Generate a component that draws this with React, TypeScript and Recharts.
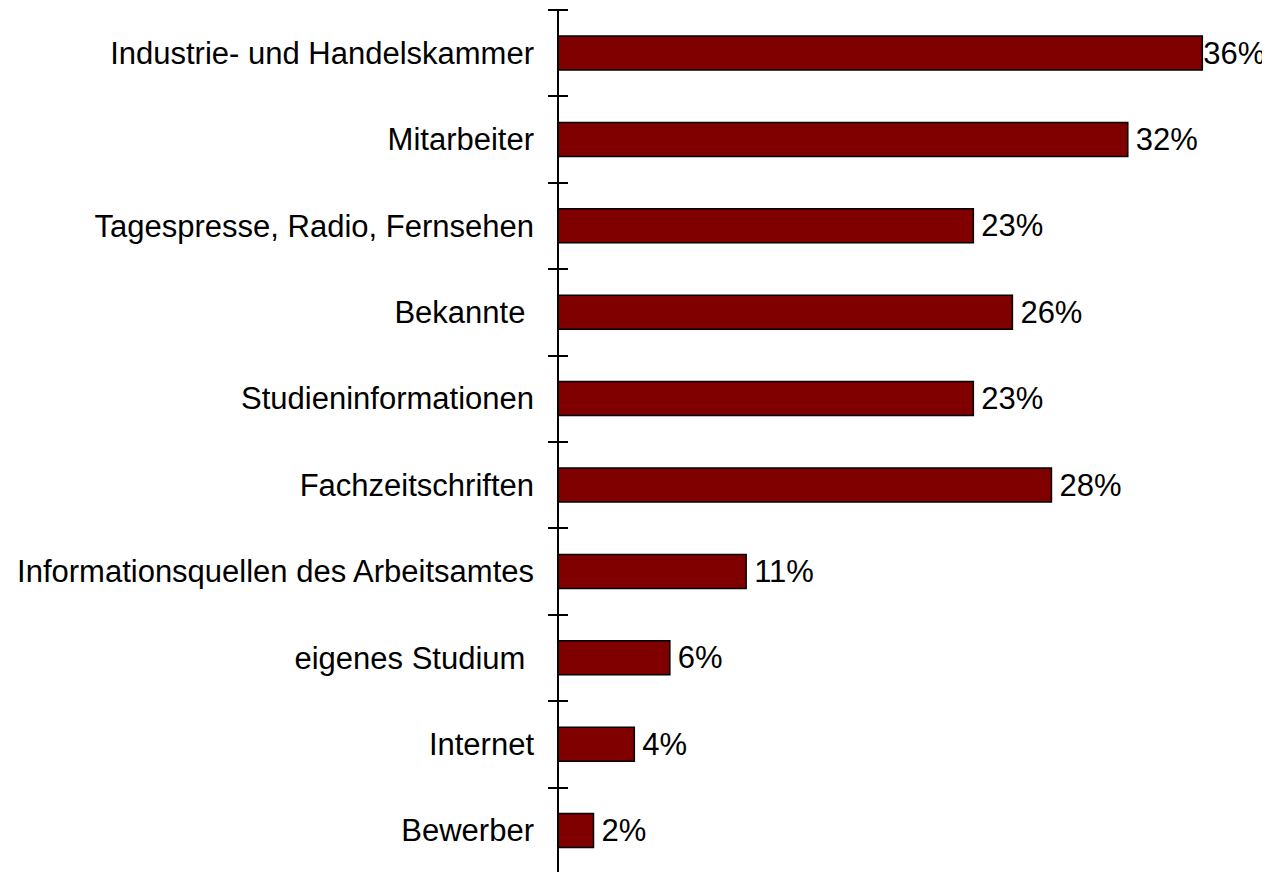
import { BarChart, Bar, XAxis, YAxis, LabelList } from 'recharts';

const categories = [
  'Industrie- und Handelskammer',
  'Mitarbeiter',
  'Tagespresse, Radio, Fernsehen',
  'Bekannte ',
  'Studieninformationen',
  'Fachzeitschriften',
  'Informationsquellen des Arbeitsamtes',
  'eigenes Studium ',
  'Internet',
  'Bewerber',
];

// share of respondents in %
const shares = [36.3, 32.1, 23.4, 25.6, 23.4, 27.8, 10.6, 6.3, 4.3, 2.0];

const WIDTH = 1262;
const HEIGHT = 870;
const MARGIN = { top: 2, right: 2, bottom: 4, left: 0 };
const FONT = '"Liberation Sans", Arial, sans-serif';
const FONT_SIZE = 31;

const data = categories.map((name, i) => ({ name, value: shares[i] }));

const bandSize = (HEIGHT - MARGIN.top - MARGIN.bottom) / categories.length;
const plotRight = WIDTH - MARGIN.right;

// label plus a tick mark on the boundary above each category
function CategoryTick(props: any) {
  const { x, y, payload } = props;
  const top = Math.round(y - bandSize / 2);
  return (
    <g>
      <line x1={x - 10} x2={x + 10} y1={top} y2={top} stroke="#000" strokeWidth={2} />
      <text
        x={x - 24}
        y={y}
        textAnchor="end"
        dominantBaseline="central"
        fontSize={FONT_SIZE}
        fontFamily={FONT}
        fill="#000"
        style={{ whiteSpace: 'pre' }}
      >
        {payload.value}
      </text>
    </g>
  );
}

// value label right of the bar; pulled in close when it would run out of the plot
function ValueLabel(props: any) {
  const { x, y, width, height, value } = props;
  const text = `${Math.round(Number(value))}%`;
  const approxWidth = text.length * FONT_SIZE * 0.67;
  const end = x + width;
  const gap = end + 8 + approxWidth > plotRight ? 1 : 8;
  return (
    <text
      x={end + gap}
      y={y + height / 2}
      textAnchor="start"
      dominantBaseline="central"
      fontSize={FONT_SIZE}
      fontFamily={FONT}
      fill="#000"
    >
      {text}
    </text>
  );
}

export default function App() {
  return (
    <BarChart width={WIDTH} height={HEIGHT} data={data} layout="vertical" margin={MARGIN}>
      <XAxis type="number" domain={[0, 40]} hide />
      <YAxis
        type="category"
        dataKey="name"
        width={550}
        axisLine={{ stroke: '#000', strokeWidth: 2 }}
        tickLine={false}
        tickSize={0}
        tickMargin={0}
        interval={0}
        tick={<CategoryTick />}
      />
      <Bar dataKey="value" fill="#800000" stroke="#000" strokeWidth={1.5} barSize={34} isAnimationActive={false}>
        <LabelList dataKey="value" content={<ValueLabel />} />
      </Bar>
    </BarChart>
  );
}
